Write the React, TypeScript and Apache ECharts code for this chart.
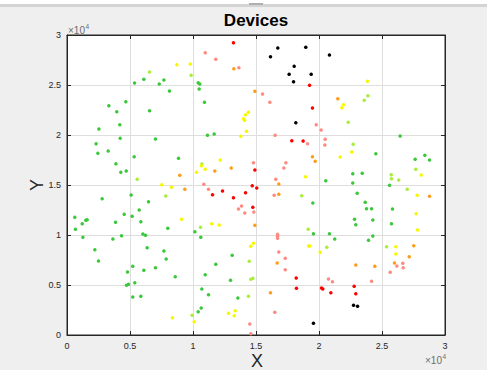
import React, { useEffect, useRef } from "react";
import * as echarts from "echarts";

// Data in real units (x, y); axis labels are shown in units of 10^4
const green: number[][] = [
  [5360, 25200], [6100, 25570], [7320, 25100], [7690, 25500], [8130, 24400], [10410, 25230], [10540, 25100],
  [10490, 24600], [10910, 23270], [3320, 22930], [3950, 22330], [4670, 23330], [6550, 22430], [2530, 20600],
  [4190, 21030], [4220, 19670], [7020, 19600], [11150, 19970], [11680, 20100], [2310, 19130], [2450, 18170],
  [3270, 18400], [3880, 17130], [4270, 16270], [4700, 16400], [5330, 17830], [8850, 17670],
  [2790, 13630], [6470, 13330], [5090, 14000], [5730, 12500], [4540, 12070], [5170, 11870], [5860, 11330],
  [3850, 11270], [620, 11770], [1490, 11470], [1600, 11530], [1210, 11130], [670, 10570], [1260, 9770],
  [3640, 9600], [4330, 9930], [6020, 10100], [6230, 9970], [8000, 10670], [2210, 8530], [2500, 7400],
  [6360, 8730], [7690, 8400], [7870, 7600], [7020, 6730], [5220, 6870], [6100, 6470], [4800, 6300],
  [8590, 5830], [5380, 5230], [4720, 4970], [4880, 5070], [5220, 3800], [5860, 3870], [10150, 10330],
  [10620, 9770], [13110, 7970], [11810, 7070], [10970, 6030], [12980, 5470], [10700, 4600], [11230, 4030],
  [13560, 3700], [10650, 2700], [10410, 2330],
  [24510, 18130], [26440, 19900], [27630, 17570], [28400, 17970], [28770, 17500], [22680, 16130],
  [23430, 16170], [22680, 15200], [20540, 15430], [25600, 14970],
  [19510, 13200], [23030, 14170], [23670, 13270], [23770, 12630], [24170, 12630], [25830, 12600],
  [22820, 11570], [22920, 11030], [24270, 11500], [25750, 11130], [19560, 10130], [20830, 10130],
  [21250, 9600], [23930, 9470], [24270, 9900],
];

const lightGreen: number[][] = [
  [6550, 26300], [9850, 25970], [5570, 15570], [10700, 17100], [7840, 13900], [10600, 10770], [9930, 1970],
  [14460, 7370], [14590, 5570], [14750, 5670], [14400, 3870],
  [23880, 23930], [23590, 23470], [22320, 21270], [22710, 19070], [27680, 16570], [25730, 16030],
  [25750, 15630], [26330, 15500], [27000, 14570], [18630, 13930], [19140, 10570], [20620, 8770],
  [25360, 8830],
];

const yellow: number[][] = [
  [8720, 27030], [9780, 27100], [14400, 22270], [14170, 22030], [14010, 21630], [14090, 21470], [14250, 20370],
  [13800, 19870], [7520, 15030], [8290, 14770], [10670, 16930], [10970, 16570], [10280, 16270], [12160, 17500],
  [9090, 11570], [11490, 11130], [12080, 11000], [8370, 1730], [10090, 1330], [12820, 2170], [13350, 2430],
  [13270, 1930], [14590, 8870], [14800, 9170],
  [23850, 25370], [21940, 23030], [21810, 22730], [22600, 18300], [21680, 17800], [28110, 16000],
  [18930, 15830], [27790, 13970], [27710, 12130], [27820, 10500], [19170, 8900], [19270, 8900],
  [20090, 8270], [26100, 8830], [26100, 8100],
];

const orange: number[][] = [
  [13240, 26630], [14910, 24370], [8950, 15970], [11730, 16400], [13030, 16700], [9350, 14570], [14910, 10970],
  [21490, 23630], [19480, 17830], [19700, 17370], [16810, 15100], [16810, 14070], [28770, 13870],
  [27520, 8930], [27160, 7830], [25990, 7200], [16680, 7200], [22920, 7000], [24430, 6870], [16150, 4230],
];

const salmon: number[][] = [
  [10970, 28230], [11810, 27570], [13640, 26730], [14800, 17230], [10860, 15070], [11230, 14570],
  [13850, 12900], [13610, 12600], [14110, 12200], [14830, 12300], [14510, 1100], [14590, 130],
  [15520, 24100], [16100, 23270], [19780, 21030], [20170, 20500], [16520, 19970], [19090, 19130],
  [20490, 19570], [20460, 19000], [17370, 17230], [17210, 16700], [16570, 15570], [16440, 13970],
  [16710, 10070], [16710, 9870], [16710, 9670], [26180, 6900], [26650, 7170], [26680, 6730], [25650, 6270],
  [16810, 8300], [17320, 7670], [17320, 6530], [24170, 5370], [20750, 5600], [21070, 5330], [16490, 2270],
];

const red: number[][] = [
  [13210, 29230], [14910, 16500], [14700, 14930], [11550, 14030], [12340, 14400], [13210, 13730],
  [14170, 14230], [15060, 14700], [14750, 12770], [19250, 24970], [19480, 22700], [17840, 19430],
  [18740, 19400], [18190, 5700], [18210, 4670], [20200, 4700], [20300, 4600], [20940, 4230],
  [22790, 4870], [22920, 4130],
];

const black: number[][] = [
  [16730, 28700], [18950, 28770], [16150, 27830], [20830, 28000], [18030, 26870], [17630, 26070],
  [19380, 26070], [17980, 25330], [18160, 21230], [22740, 2970], [23060, 2870], [19560, 1170],
];

const seriesDefs: { name: string; data: number[][]; color: string }[] = [
  { name: "green", data: green, color: "#3cc83c" },
  { name: "lightgreen", data: lightGreen, color: "#a8ee3a" },
  { name: "yellow", data: yellow, color: "#f7f700" },
  { name: "orange", data: orange, color: "#ff9c1a" },
  { name: "salmon", data: salmon, color: "#ff8a82" },
  { name: "red", data: red, color: "#ff0000" },
  { name: "black", data: black, color: "#000000" },
];

const FONT = "'Liberation Sans', Arial, Helvetica, sans-serif";
const AX = "#262626";

export default function App() {
  const ref = useRef<HTMLDivElement>(null);
  useEffect(() => {
    if (!ref.current) return;
    const chart = echarts.init(ref.current, undefined, { renderer: "svg" });
    const fmt = (v: number) => String(v / 10000);
    const baseAxis = {
      type: "value" as const,
      min: 0,
      max: 30000,
      interval: 5000,
      axisLine: { show: true, onZero: false, lineStyle: { color: AX, width: 1 } },
      axisTick: { show: true, inside: true, length: 4, lineStyle: { color: AX } },
    };
    chart.setOption({
      animation: false,
      backgroundColor: "#efefef",
      grid: {
        left: 67,
        right: 42,
        top: 35,
        bottom: 35,
        containLabel: false,
        outerBoundsMode: "none",
        show: true,
        backgroundColor: "#ffffff",
        borderColor: AX,
        borderWidth: 1,
      },
      xAxis: [
        {
          ...baseAxis,
          position: "bottom",
          axisLabel: { formatter: fmt, color: AX, fontSize: 9, margin: 6, fontFamily: FONT },
          splitLine: { show: true, lineStyle: { color: "#dedede", width: 1 } },
        },
        {
          ...baseAxis,
          position: "top",
          axisLabel: { show: false },
          splitLine: { show: false },
        },
      ],
      yAxis: [
        {
          ...baseAxis,
          position: "left",
          axisLabel: { formatter: fmt, color: AX, fontSize: 9, margin: 6, fontFamily: FONT },
          splitLine: { show: true, lineStyle: { color: "#dedede", width: 1 } },
        },
        {
          ...baseAxis,
          position: "right",
          axisLabel: { show: false },
          splitLine: { show: false },
        },
      ],
      series: seriesDefs.map((s) => ({
        type: "scatter",
        name: s.name,
        xAxisIndex: 0,
        yAxisIndex: 0,
        data: s.data,
        symbol: "circle",
        symbolSize: 3.5,
        itemStyle: { color: s.color, opacity: 1 },
        silent: true,
      })),
      graphic: [
        { type: "rect", shape: { x: 0, y: 0, width: 487, height: 4 }, style: { fill: "#ffffff" }, silent: true },
        { type: "rect", shape: { x: 0, y: 4, width: 487, height: 3 }, style: { fill: "#d4d4d4" }, silent: true },
        { type: "rect", shape: { x: 249, y: 3, width: 14, height: 2 }, style: { fill: "#b0b0b0" }, silent: true },
        {
          type: "text",
          x: 256,
          y: 20,
          style: {
            text: "Devices",
            fontSize: 17,
            fontWeight: "bold",
            fontFamily: FONT,
            fill: "#000000",
            textAlign: "center",
            textVerticalAlign: "middle",
          },
        },
        {
          type: "text",
          x: 257,
          y: 361,
          style: {
            text: "X",
            fontSize: 18,
            fontFamily: FONT,
            fill: AX,
            textAlign: "center",
            textVerticalAlign: "middle",
          },
        },
        {
          type: "text",
          x: 37,
          y: 185,
          rotation: Math.PI / 2,
          style: {
            text: "Y",
            fontSize: 18,
            fontFamily: FONT,
            fill: AX,
            textAlign: "center",
            textVerticalAlign: "middle",
          },
        },
        {
          type: "text",
          x: 68,
          y: 30.5,
          style: { text: "×10", fontSize: 10, fontFamily: FONT, fill: "#6e6e6e", textAlign: "left", textVerticalAlign: "middle" },
        },
        {
          type: "text",
          x: 85.5,
          y: 26.5,
          style: { text: "4", fontSize: 6.5, fontFamily: FONT, fill: "#6e6e6e", textAlign: "left", textVerticalAlign: "middle" },
        },
        {
          type: "text",
          x: 425,
          y: 360,
          style: { text: "×10", fontSize: 10, fontFamily: FONT, fill: "#6e6e6e", textAlign: "left", textVerticalAlign: "middle" },
        },
        {
          type: "text",
          x: 442.5,
          y: 356,
          style: { text: "4", fontSize: 6.5, fontFamily: FONT, fill: "#6e6e6e", textAlign: "left", textVerticalAlign: "middle" },
        },
      ],
    });
    return () => chart.dispose();
  }, []);
  return (
    <div
      ref={ref}
      style={{ position: "fixed", left: 0, top: 0, width: 487, height: 370 }}
    />
  );
}
